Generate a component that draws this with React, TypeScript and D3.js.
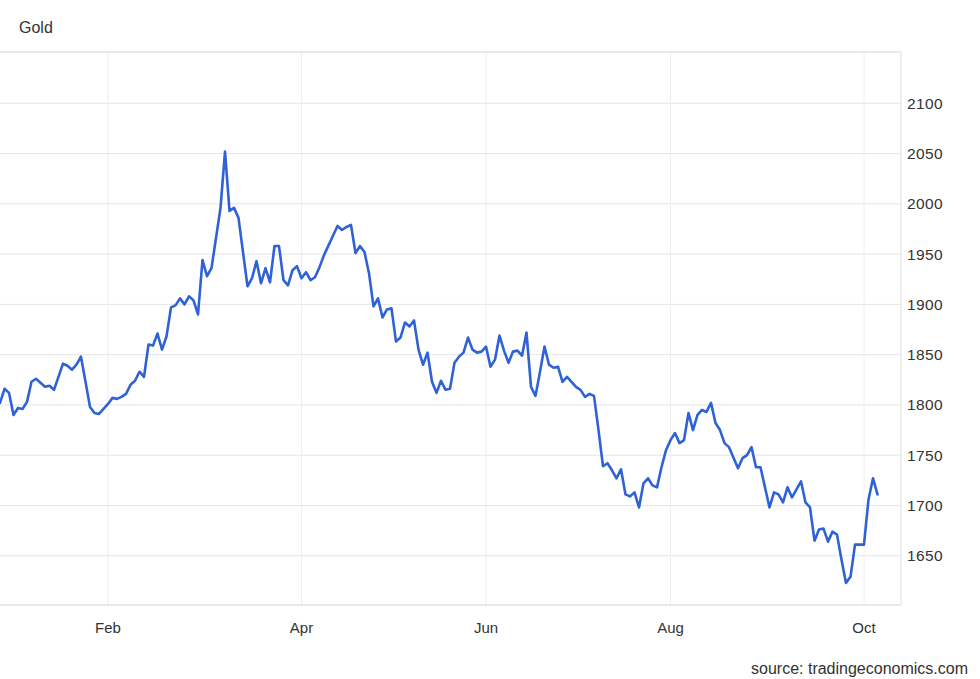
import React from "react";
import * as d3 from "d3";

const title = "Gold";
const source = "source: tradingeconomics.com";

// trading-day index (0 = left edge of the visible window) and gold price (USD/oz)
const dayIndex = [
  0, 1, 2, 3, 4, 5, 6, 7, 8, 9, 10, 11, 12, 14, 15, 16, 17, 18, 19, 20,
  21, 22, 23, 24, 25, 26, 27, 28, 29, 30, 31, 32, 33, 34, 35, 36, 37, 38, 39, 40,
  41, 42, 43, 44, 45, 46, 47, 49, 50, 51, 52, 53, 55, 56, 57, 58, 59, 60, 61, 62,
  63, 64, 65, 66, 67, 68, 69, 70, 71, 72, 75, 76, 77, 78, 79, 80, 81, 82, 83, 84,
  85, 86, 87, 88, 89, 90, 91, 92, 93, 94, 95, 96, 97, 98, 99, 100, 101, 102, 103, 104,
  105, 106, 107, 108, 109, 110, 111, 112, 113, 114, 115, 116, 117, 118, 119, 120, 121, 122, 123, 124,
  125, 126, 127, 128, 129, 130, 131, 132, 133, 134, 135, 136, 137, 138, 139, 140, 141, 142, 143, 144,
  145, 146, 147, 148, 149, 150, 151, 152, 153, 154, 155, 156, 157, 158, 159, 160, 161, 162, 164, 165,
  166, 167, 168, 169, 171, 172, 173, 174, 175, 176, 177, 178, 179, 180, 181, 182, 183, 184, 185, 186,
  187, 188, 189, 190, 191, 192, 193, 194, 195,
];

const price = [
  1802, 1816, 1812, 1790, 1797, 1796, 1803, 1823, 1826, 1822, 1818, 1819, 1815, 1841, 1839, 1835, 1840, 1848, 1823, 1798,
  1792, 1791, 1796, 1801, 1807, 1806, 1808, 1811, 1820, 1824, 1833, 1828, 1860, 1859, 1871, 1855, 1868, 1897, 1899, 1906,
  1900, 1908, 1904, 1890, 1944, 1928, 1936, 1996, 2052, 1993, 1996, 1986, 1918, 1926, 1943, 1921, 1936, 1922, 1958, 1958,
  1924, 1919, 1934, 1938, 1926, 1932, 1924, 1927, 1937, 1949, 1978, 1974, 1977, 1979, 1951, 1958, 1952, 1931, 1898, 1906,
  1887, 1895, 1896, 1863, 1867, 1882, 1878, 1884, 1855, 1840, 1852, 1823, 1812, 1824, 1815, 1816, 1842, 1848, 1852, 1867,
  1855, 1852, 1853, 1858, 1838, 1845, 1869, 1854, 1842, 1853, 1854, 1849, 1872, 1818, 1809, 1833, 1858, 1840, 1837, 1838,
  1823, 1828, 1823, 1818, 1815, 1808, 1811, 1809, 1775, 1739, 1742, 1735, 1727, 1736, 1711, 1709, 1713, 1698, 1722, 1727,
  1720, 1718, 1738, 1755, 1765, 1772, 1762, 1765, 1792, 1775, 1790, 1795, 1793, 1802, 1782, 1775, 1762, 1758, 1737, 1747,
  1750, 1758, 1738, 1738, 1698, 1713, 1711, 1703, 1718, 1708, 1716, 1724, 1703, 1698, 1665, 1676, 1677, 1664, 1674, 1671,
  1646, 1623, 1629, 1661, 1661, 1661, 1706, 1727, 1711,
];

const yTicks = [1650, 1700, 1750, 1800, 1850, 1900, 1950, 2000, 2050, 2100];
const xTickLabels = ["Feb", "Apr", "Jun", "Aug", "Oct"];
const xTickIndex = [24, 67, 108, 149, 192];

const W = 980;
const H = 679;
const left = 0;
const right = 901;
const top = 52;
const bottom = 605;
const font = "'Liberation Sans', Arial, Helvetica, sans-serif";

export default function App() {
  const x = d3.scaleLinear().domain([0, 192]).range([0, 864]);
  const y = d3.scaleLinear().domain([1601, 2151]).range([bottom, top]);
  const data = dayIndex.map((d, i) => [d, price[i]] as [number, number]);
  const line = d3
    .line<[number, number]>()
    .x((d) => x(d[0]))
    .y((d) => y(d[1]))
    .curve(d3.curveLinear);

  return (
    <svg
      width={W}
      height={H}
      style={{ position: "absolute", left: 0, top: 0, background: "#fff" }}
    >
      <text x={19} y={33} fontFamily={font} fontSize={16} fill="#333">
        {title}
      </text>

      {yTicks.map((t) => (
        <line key={"h" + t} x1={left} x2={right} y1={y(t)} y2={y(t)} stroke="#e5e5e5" strokeWidth={1} />
      ))}
      {xTickIndex.map((t, i) => (
        <line key={"v" + i} x1={x(t)} x2={x(t)} y1={top} y2={bottom} stroke="#eeeeee" strokeWidth={1} />
      ))}
      <line x1={left} x2={right} y1={top} y2={top} stroke="#e2e2e2" strokeWidth={1.5} />
      <line x1={left} x2={right} y1={bottom} y2={bottom} stroke="#e2e2e2" strokeWidth={1.5} />
      <line x1={right} x2={right} y1={top} y2={bottom} stroke="#e8e8e8" strokeWidth={1.5} />

      <clipPath id="plotclip">
        <rect x={left} y={top} width={right - left} height={bottom - top} />
      </clipPath>
      <path
        d={line(data) || ""}
        fill="none"
        stroke="#2f62d6"
        strokeWidth={2.6}
        strokeLinejoin="round"
        strokeLinecap="round"
        clipPath="url(#plotclip)"
      />

      {yTicks.map((t) => (
        <text key={"yl" + t} x={907} y={y(t)} dy="0.36em" fontFamily={font} fontSize={15.5} fill="#333" letterSpacing={0.4}>
          {t}
        </text>
      ))}
      {xTickIndex.map((t, i) => (
        <text key={"xl" + i} x={x(t)} y={633} textAnchor="middle" fontFamily={font} fontSize={15} fill="#333">
          {xTickLabels[i]}
        </text>
      ))}

      <text x={968} y={674} textAnchor="end" fontFamily={font} fontSize={16} fill="#333">
        {source}
      </text>
    </svg>
  );
}
